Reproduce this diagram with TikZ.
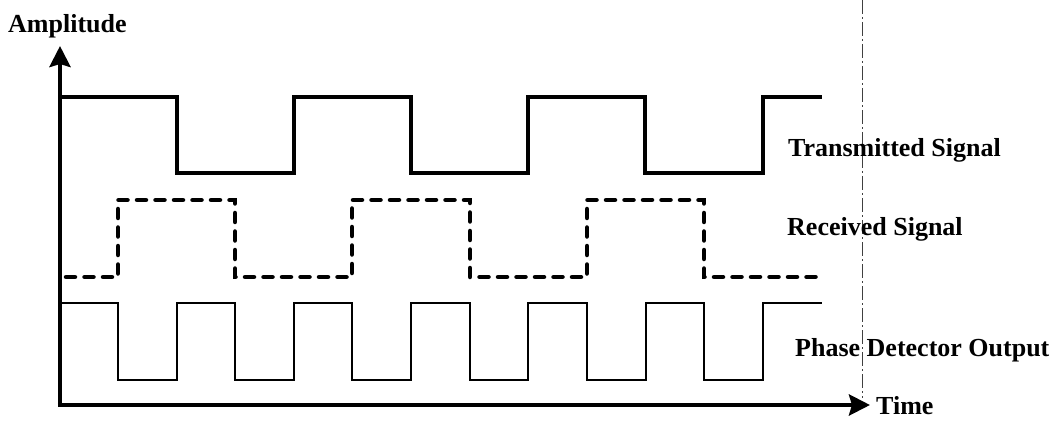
\documentclass[tikz,border=0pt]{standalone}
\usepackage{fontspec}
\setmainfont{Liberation Serif}
\usetikzlibrary{arrows.meta}
\begin{document}
\begin{tikzpicture}[x=1pt,y=-1pt,
  axisline/.style={line width=4.2pt,-{Stealth[length=21pt,width=21pt,inset=3pt]}},
  txsig/.style={line width=4.2pt,line join=miter},
  rxsig/.style={line width=4.5pt,dash pattern=on 9pt off 9.5pt,line cap=round},
  pdsig/.style={line width=2pt,line join=miter},
  edge/.style={line width=0.8pt,black!75,dash pattern=on 14pt off 3pt on 2pt off 3pt},
  lab/.style={font=\fontsize{26}{28}\selectfont\bfseries,inner sep=0pt,anchor=base west}]
\useasboundingbox (0,0) rectangle (1060,422);
% axes
\coordinate (O) at (60,405);
\coordinate (ytip) at (60,46);
\coordinate (xtip) at (870,405);
\draw[axisline] (O) -- (ytip);
\draw[axisline] ([xshift=-2.1pt]O) -- (xtip);
% scan edge line
\coordinate (e1) at (862,0);
\coordinate (e2) at (862,398);
\draw[edge] (e1) -- (e2);
% transmitted signal
\draw[txsig] (62,97) -- (177,97) -- (177,173) -- (294,173) -- (294,97) -- (411,97) -- (411,173)
  -- (528,173) -- (528,97) -- (645,97) -- (645,173) -- (763,173) -- (763,97) -- (822,97);
% received signal
\draw[rxsig] (66,277) -- (118,277) -- (118,200) -- (235,200) -- (235,277) -- (352,277) -- (352,200)
  -- (470,200) -- (470,277) -- (587,277) -- (587,200) -- (704,200) -- (704,277) -- (822,277);
% phase detector output
\draw[pdsig] (62,303) -- (118,303) -- (118,380) -- (177,380) -- (177,303) -- (235,303) -- (235,380)
  -- (294,380) -- (294,303) -- (352,303) -- (352,380) -- (411,380) -- (411,303) -- (470,303)
  -- (470,380) -- (528,380) -- (528,303) -- (587,303) -- (587,380) -- (646,380) -- (646,303)
  -- (704,303) -- (704,380) -- (763,380) -- (763,303) -- (822,303);
% labels
\node[lab] (amp) at (8,33) {Amplitude};
\node[lab] (tx) at (788,157) {Transmitted Signal};
\node[lab] (rx) at (787,236) {Received Signal};
\node[lab] (pd) at (795,356) {Phase Detector Output};
\node[lab] (time) at (876,414) {Time};
\end{tikzpicture}
\end{document}
